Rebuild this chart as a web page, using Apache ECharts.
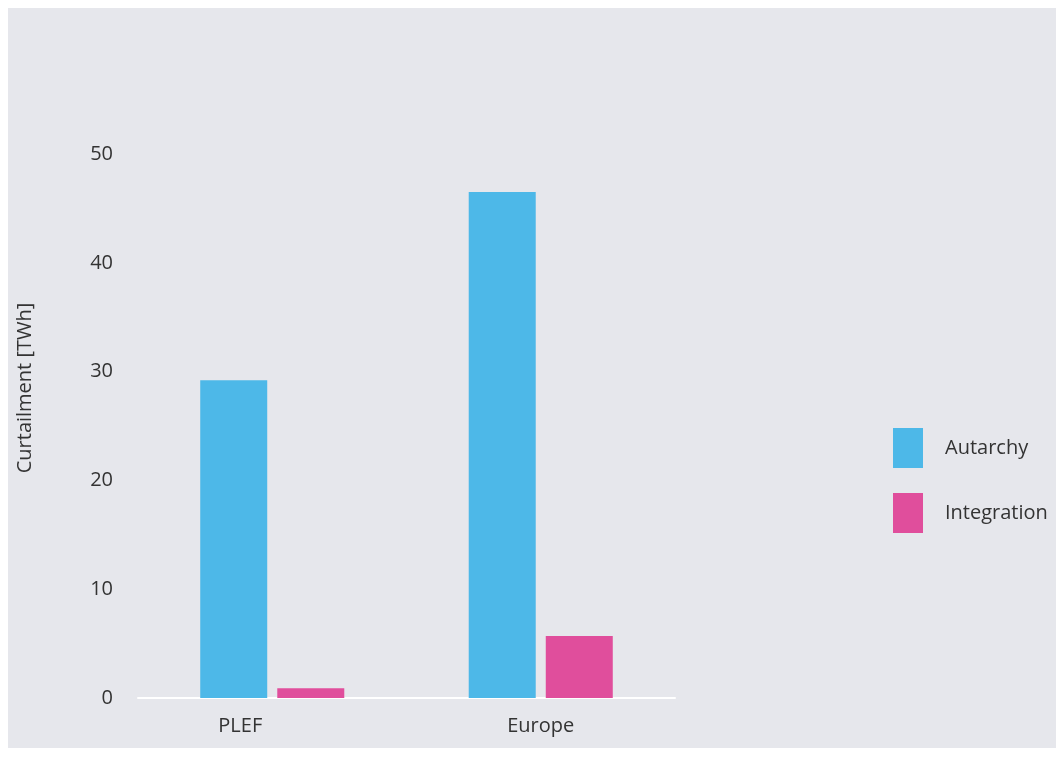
<!DOCTYPE html>
<html>
<head>
<meta charset="utf-8">
<script src="https://cdn.jsdelivr.net/npm/echarts@6/dist/echarts.min.js"></script>
<style>
  html, body { margin: 0; padding: 0; background: #ffffff; }
  #chart { width: 1056px; height: 780px; }
</style>
</head>
<body>
<div id="chart"></div>
<script>
// Curtailment by region and scenario, in TWh
const categories = ['PLEF', 'Europe'];
const autarchy = [29.2, 46.5];
const integration = [0.9, 5.7];
const yTicks = [0, 10, 20, 30, 40, 50];

const FONT = '"Open Sans", "DejaVu Sans", sans-serif';
const TEXT = '#333333';

const chart = echarts.init(document.getElementById('chart'));
chart.setOption({
  backgroundColor: '#ffffff',
  animation: false,
  graphic: [
    {
      type: 'rect',
      z: -10,
      shape: { x: 8, y: 8, width: 1048, height: 740 },
      style: { fill: '#e6e7ec' }
    },
    {
      type: 'text',
      x: 25,
      y: 388,
      rotation: Math.PI / 2,
      style: {
        text: 'Curtailment [TWh]',
        fontFamily: FONT,
        fontSize: 20,
        fill: TEXT,
        align: 'center',
        verticalAlign: 'middle'
      }
    }
  ],
  grid: { left: 138, width: 537, top: 154, bottom: 82, containLabel: false },
  legend: {
    orient: 'vertical',
    left: 888,
    top: 423,
    itemWidth: 30,
    itemHeight: 40,
    itemGap: 25,
    icon: 'rect',
    textStyle: { fontFamily: FONT, fontSize: 20, color: TEXT, padding: [0, 0, 0, 17] },
    data: ['Autarchy', 'Integration']
  },
  xAxis: {
    type: 'category',
    data: categories.map((c, i) => i === 0
      ? { value: c, textStyle: { padding: [0, 64, 0, 0] } }
      : c),
    axisLine: { show: true, lineStyle: { color: '#ffffff', width: 2 } },
    axisTick: { show: false },
    axisLabel: { fontFamily: FONT, fontSize: 20, color: TEXT, margin: 18 }
  },
  yAxis: {
    type: 'value',
    min: yTicks[0],
    max: yTicks[yTicks.length - 1],
    interval: 10,
    axisLine: { show: false },
    axisTick: { show: false },
    splitLine: { show: false },
    axisLabel: { fontFamily: FONT, fontSize: 20, color: TEXT, margin: 25 }
  },
  series: [
    {
      name: 'Autarchy',
      type: 'bar',
      data: autarchy,
      barWidth: 67,
      barGap: '15%',
      itemStyle: { color: '#4db8e8' }
    },
    {
      name: 'Integration',
      type: 'bar',
      data: integration,
      barWidth: 67,
      itemStyle: { color: '#e04e9c' }
    }
  ]
});
</script>
</body>
</html>
